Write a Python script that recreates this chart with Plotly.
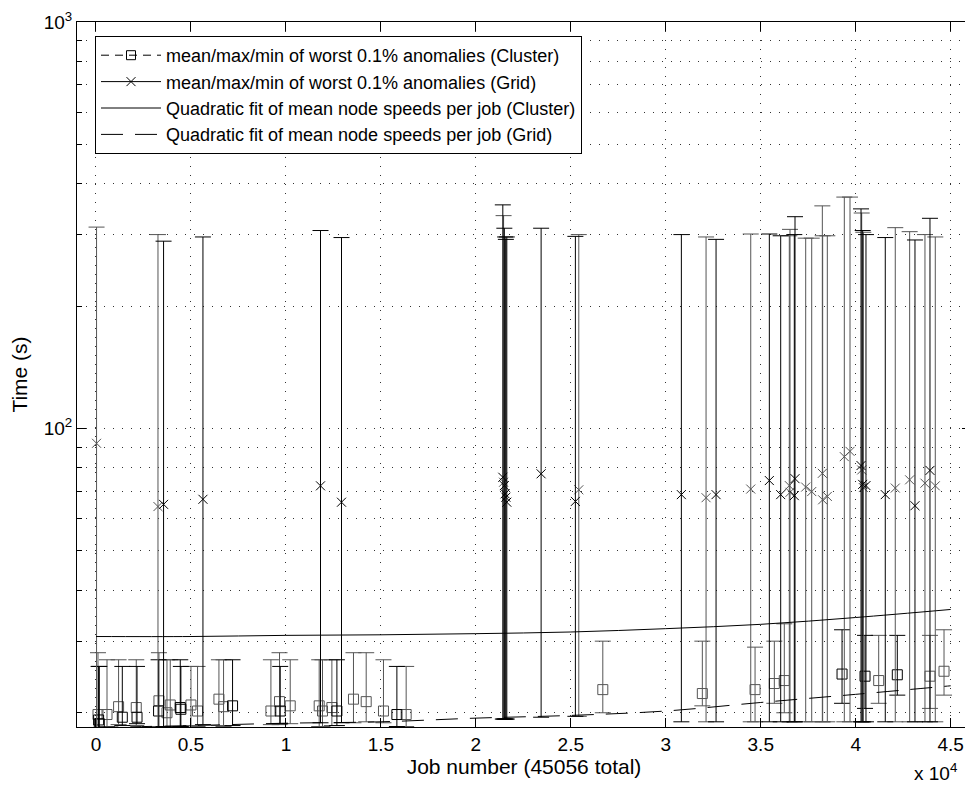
import math
import plotly.graph_objects as go

# ---------------- data ----------------
# Cluster: worst 0.1% anomalies (mean / max / min), per job
cluster_job = [105, 137, 174, 580, 1190, 1385, 2120, 2160, 3315, 3295, 3737, 3910,
               4437, 4470, 5000, 5347, 6473, 6716, 7190, 9210, 9663, 9700, 10226,
               11752, 11926, 12420, 12684, 13557, 14226, 15136, 15842, 16331,
               26684, 31925, 34700, 35715, 36240, 39280, 40490, 41210, 42190,
               43910, 44650]
cluster_mean = [19.8, 19.2, 18.8, 19.8, 20.7, 19.5, 20.6, 19.5, 21.4, 20.2, 20.0, 20.9,
                20.6, 20.4, 20.9, 20.2, 21.6, 20.7, 20.8, 20.2, 21.3, 20.2, 20.8,
                20.8, 20.2, 20.6, 20.2, 21.6, 21.3, 20.2, 19.8, 19.8,
                22.8, 22.3, 22.8, 23.6, 24.0, 24.9, 24.6, 24.0, 24.8,
                24.6, 25.3]
cluster_max = [28.1, 26.0, 26.0, 27.0, 27.0, 26.0, 27.0, 26.0, 28.1, 27.0, 27.0, 27.0,
               27.0, 26.0, 26.0, 26.0, 27.0, 27.0, 27.0, 27.0, 28.1, 26.0, 27.0,
               27.0, 27.0, 27.0, 27.0, 28.1, 28.1, 27.0, 26.0, 26.0,
               30.0, 30.0, 29.0, 30.0, 33.1, 32.0, 31.0, 31.0, 31.0,
               31.0, 32.0]
cluster_min = [18.3, 18.3, 18.3, 18.5, 18.7, 18.6, 18.6, 18.8, 18.5, 18.5, 18.5, 18.5,
               18.5, 18.5, 18.6, 18.5, 18.6, 18.5, 18.6, 18.7, 18.7, 18.8, 18.8,
               18.5, 18.5, 18.6, 18.6, 18.9, 19.0, 18.9, 18.5, 18.5,
               20.0, 20.8, 19.0, 21.1, 20.0, 21.1, 20.5, 21.1, 22.1,
               20.5, 22.1]
cluster_shade = ["g", "k", "k", "g", "g", "k", "g", "k", "g", "k", "g", "g",
                 "k", "k", "g", "g", "g", "g", "k", "g", "g", "k", "g",
                 "g", "g", "g", "k", "g", "g", "g", "k", "g",
                 "g", "g", "g", "g", "g", "k", "k", "g", "k",
                 "g", "g"]

# Grid: worst 0.1% anomalies (mean / max / min), per job
grid_job = [30, 3263, 3558, 5631, 11821, 12926,
            21420, 21460, 21500, 21540, 21580, 21630,
            23436, 25240, 25420, 30820, 32120, 32647, 34473, 35452, 36050,
            36504, 36540, 36767, 36804, 37367, 37683, 38243, 38260, 38505,
            39400, 39700, 40280, 40315, 40368, 40400, 40540, 41557, 42083,
            42840, 43120, 43646, 43910, 44190]
grid_mean = [92.0, 64.3, 65.1, 67.0, 72.3, 65.9,
             75.9, 73.8, 72.4, 69.1, 67.8, 65.9,
             77.4, 66.2, 70.7, 68.8, 67.6, 68.8, 71.0, 74.5, 68.8,
             72.4, 69.7, 68.4, 75.3, 71.8, 70.0, 77.6, 66.8, 68.1,
             85.3, 87.9, 81.1, 79.1, 72.9, 71.6, 72.4, 68.8, 71.4,
             74.8, 64.6, 73.4, 78.9, 72.3]
grid_max = [313, 300, 289, 296, 307, 295,
            355, 334, 311, 296, 292, 296,
            311, 297, 300, 300, 296, 292, 301, 301, 298,
            298, 309, 300, 332, 294, 294, 353, 298, 298,
            371, 371, 347, 339, 307, 304, 300, 295, 312,
            305, 291, 300, 329, 296]
grid_min = [18.4, 18.5, 18.5, 18.7, 18.9, 18.9,
            19.3, 19.3, 19.3, 19.3, 19.3, 19.3,
            19.5, 19.6, 19.6, 19.0, 19.0, 19.0, 19.0, 19.0, 19.0,
            19.0, 19.0, 19.0, 19.0, 19.0, 19.0, 19.0, 19.0, 19.0,
            19.0, 19.0, 19.0, 19.0, 19.0, 19.0, 19.0, 19.0, 19.0,
            19.0, 19.0, 19.0, 19.0, 19.0]
grid_shade = ["g", "g", "k", "k", "k", "k",
              "k", "g", "k", "k", "k", "k",
              "k", "k", "g", "k", "g", "k", "g", "k", "k",
              "g", "g", "k", "k", "g", "g", "g", "g", "g",
              "g", "g", "k", "g", "k", "g", "k", "k", "g",
              "g", "k", "g", "k", "g"]

# Quadratic fits of mean node speeds per job
fit_job = [0, 5000, 10000, 15000, 20000, 25000, 30000, 35000, 40000, 45000]
fit_cluster = [30.8, 30.8, 31.0, 31.1, 31.3, 31.6, 32.2, 33.0, 34.3, 35.9]
fit_grid = [18.4, 18.6, 18.85, 19.0, 19.4, 19.7, 20.2, 21.2, 22.2, 23.3]

x_tick_vals = [0, 5000, 10000, 15000, 20000, 25000, 30000, 35000, 40000, 45000]
x_tick_text = ["0", "0.5", "1", "1.5", "2", "2.5", "3", "3.5", "4", "4.5"]
y_tick_vals = [100, 1000]
y_tick_text = ["10<sup>2</sup>", "10<sup>3</sup>"]
y_minor_vals = [20, 30, 40, 50, 60, 70, 80, 90, 200, 300, 400, 500, 600, 700, 800, 900]

legend_names = ["mean/max/min of worst 0.1% anomalies (Cluster)",
                "mean/max/min of worst 0.1% anomalies (Grid)",
                "Quadratic fit of mean node speeds per job (Cluster)",
                "Quadratic fit of mean node speeds per job (Grid)"]

# ---------------- styling ----------------
FONT = "Liberation Sans, Arial, Helvetica, sans-serif"
COLORS = {"k": "#000000", "g": "#555555"}

fig = go.Figure()

# legend-only entries (errorbar style)
fig.add_trace(go.Scatter(x=[None], y=[None], mode="lines+markers", name=legend_names[0],
                         line=dict(color="black", width=1, dash="8px,6px"),
                         marker=dict(symbol="square-open", size=9, color="black",
                                     line=dict(width=1))))
fig.add_trace(go.Scatter(x=[None], y=[None], mode="lines+markers", name=legend_names[1],
                         line=dict(color="black", width=1),
                         marker=dict(symbol="x-thin-open", size=9, color="black",
                                     line=dict(width=1, color="black"))))


def add_series(job, mean, mx, mn, shade, symbol, size):
    for key in ["g", "k"]:
        idx = [i for i, s in enumerate(shade) if s == key]
        xs = [job[i] for i in idx]
        ys = [mean[i] for i in idx]
        up = [mx[i] - mean[i] for i in idx]
        dn = [mean[i] - mn[i] for i in idx]
        fig.add_trace(go.Scatter(
            x=xs, y=ys, mode="markers", showlegend=False, hoverinfo="skip",
            marker=dict(symbol=symbol, size=size, color=COLORS[key],
                        line=dict(width=1, color=COLORS[key])),
            error_y=dict(type="data", symmetric=False, array=up, arrayminus=dn,
                         color=COLORS[key], thickness=1, width=8),
        ))


add_series(cluster_job, cluster_mean, cluster_max, cluster_min, cluster_shade, "square-open", 10)
add_series(grid_job, grid_mean, grid_max, grid_min, grid_shade, "x-thin-open", 9)

fig.add_trace(go.Scatter(x=fit_job, y=fit_cluster, mode="lines", name=legend_names[2],
                         line=dict(color="black", width=1, shape="spline")))
fig.add_trace(go.Scatter(x=fit_job, y=fit_grid, mode="lines", name=legend_names[3],
                         line=dict(color="black", width=1, dash="22px,12px", shape="spline")))

GRID = dict(showgrid=True, gridcolor="#333333", gridwidth=1, griddash="1px,8px")

fig.update_xaxes(
    range=[-1000, 46070], tickmode="array", tickvals=x_tick_vals, ticktext=x_tick_text,
    ticks="inside", ticklen=9, tickcolor="black", tickwidth=1,
    showline=True, linecolor="black", linewidth=1, mirror="allticks",
    zeroline=False, tickfont=dict(size=19, color="black", family=FONT),
    title=dict(text="Job number (45056 total)", font=dict(size=21, color="black", family=FONT),
               standoff=4),
    **GRID,
)
fig.update_yaxes(
    type="log", range=[math.log10(18.45), 3], tickmode="array",
    tickvals=y_tick_vals, ticktext=y_tick_text,
    ticks="inside", ticklen=9, tickcolor="black", tickwidth=1,
    showline=True, linecolor="black", linewidth=1, mirror="allticks",
    zeroline=False, tickfont=dict(size=19, color="black", family=FONT),
    minor=dict(tickmode="array", tickvals=y_minor_vals, ticks="inside", ticklen=5,
               tickcolor="black", showgrid=True, gridcolor="#333333", griddash="1px,8px"),
    title=dict(text="Time (s)", font=dict(size=21, color="black", family=FONT), standoff=14),
    **GRID,
)

fig.add_annotation(xref="paper", yref="paper", x=(935 - 77) / 894, y=-(772 - 727) / 705,
                   text="x 10<sup>4</sup>", showarrow=False, xanchor="center", yanchor="middle",
                   font=dict(size=19, color="black", family=FONT))

# The page body has an 8px margin: size the figure so the plot area lands
# at x 77..971, y 22..727 of the window.
fig.update_layout(
    width=965, height=778,
    margin=dict(l=69, r=2, t=14, b=59, autoexpand=False),
    paper_bgcolor="white", plot_bgcolor="white",
    font=dict(family=FONT, color="black"),
    showlegend=True,
    legend=dict(x=(95 - 77) / 894, y=1 - (36 - 22) / 705, xanchor="left", yanchor="top",
                bgcolor="white", bordercolor="black", borderwidth=1,
                font=dict(size=18, color="black", family=FONT),
                itemwidth=60, tracegroupgap=0),
)

fig.write_html("out.html")
